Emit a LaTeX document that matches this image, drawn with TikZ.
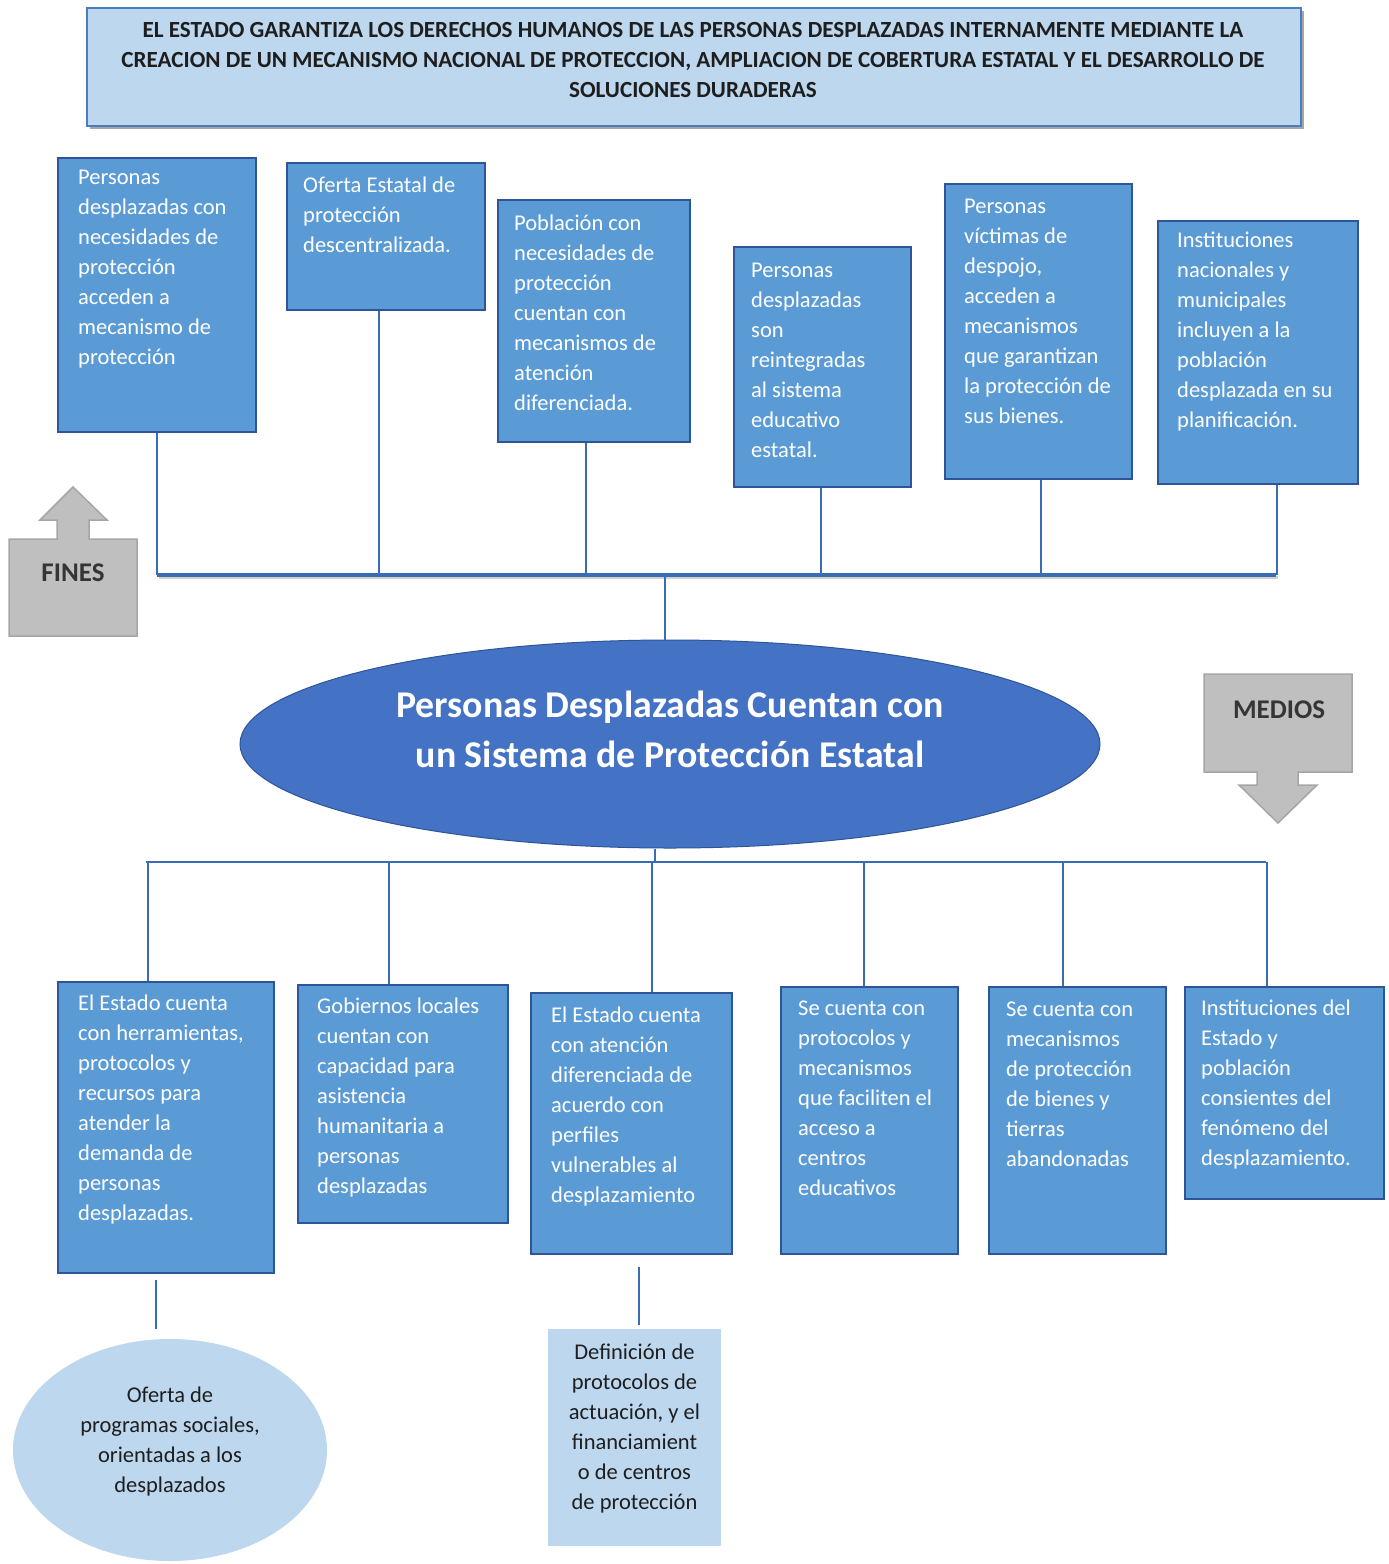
\documentclass[tikz,border=0pt]{standalone}
\usepackage{fontspec}
\setmainfont{Carlito}
\usetikzlibrary{shapes.geometric}
\definecolor{boxfill}{HTML}{5B9BD5}
\definecolor{boxline}{HTML}{2F5597}
\definecolor{lightfill}{HTML}{BDD7EE}
\definecolor{titleline}{HTML}{4A7EBB}
\definecolor{ovalfill}{HTML}{4472C4}
\definecolor{connc}{HTML}{3A6BB5}
\definecolor{arrowfill}{HTML}{BFBFBF}
\definecolor{arrowline}{HTML}{A6A6A6}
\definecolor{darktext}{HTML}{1E1E1E}
\tikzset{
  bluebox/.style={draw=boxline, fill=boxfill, line width=1.5pt, inner sep=0pt},
  boxtext/.style={inner sep=0pt, align=left, text=white, font=\fontsize{22.5}{30}\selectfont},
  titlebox/.style={draw=titleline, fill=lightfill, line width=1.5pt, inner sep=0pt},
  titletext/.style={inner sep=0pt, align=center, text=darktext, font=\bfseries\fontsize{23.1}{30}\selectfont},
  conn/.style={draw=connc, line width=2pt},
  mainbar/.style={draw=connc, line width=3.5pt},
  oval/.style={ellipse, fill=ovalfill, draw=boxline, line width=1pt, minimum width=860, minimum height=208, inner sep=0pt},
  ovaltext/.style={inner sep=0pt, text=white, align=center, font=\bfseries\fontsize{37.8}{50}\selectfont},
  lightoval/.style={ellipse, fill=lightfill, minimum width=314, minimum height=222, inner sep=0pt},
  lightrect/.style={fill=lightfill, inner sep=0pt},
  lighttext/.style={inner sep=0pt, align=center, text=darktext, font=\fontsize{22.5}{30}\selectfont},
  grayarrow/.style={fill=arrowfill, draw=arrowline, line width=1.5pt},
  arrowtext/.style={inner sep=0pt, text=darktext!90, font=\bfseries\fontsize{27}{30}\selectfont}
}
% name, x, y, w, h, xpad, baseline offset, text
\newcommand\tbox[8]{%
  \node[bluebox, minimum width=#4, minimum height=#5, anchor=north west] (#1) at (#2,#3) {};
  \node[boxtext, anchor=north west] (#1t) at ([xshift=#6pt,yshift={17pt-#7pt}]#1.north west) {\rule{0pt}{17pt}#8};
}
\begin{document}
\begin{tikzpicture}[x=1pt,y=-1pt]
\useasboundingbox (0,0) rectangle (1389,1564);
\fill[white] (0,0) rectangle (1389,1564);

% title
\fill[black!35] (90,11) rectangle (1304,129);
\node[titlebox, minimum width=1214, minimum height=118, anchor=north west] (title) at (86,7) {};
\node[titletext, anchor=north] (titlet) at (693,20) {\rule{0pt}{17pt}EL ESTADO GARANTIZA LOS DERECHOS HUMANOS DE LAS PERSONAS DESPLAZADAS INTERNAMENTE MEDIANTE LA\\CREACION DE UN MECANISMO NACIONAL DE PROTECCION, AMPLIACION DE COBERTURA ESTATAL Y EL DESARROLLO DE\\SOLUCIONES DURADERAS};

% fines boxes
\tbox{f1}{57}{157}{198}{274}{21}{27}{Personas\\desplazadas con\\necesidades de\\protección\\acceden a\\mecanismo de\\protección}
\tbox{f2}{286}{162}{198}{147}{17}{30}{Oferta Estatal de\\protección\\descentralizada.}
\tbox{f3}{497}{199}{192}{242}{17}{31}{Población con\\necesidades de\\protección\\cuentan con\\mecanismos de\\atención\\diferenciada.}
\tbox{f4}{733}{246}{177}{240}{18}{31}{Personas\\desplazadas\\son\\reintegradas\\al sistema\\educativo\\estatal.}
\tbox{f5}{944}{183}{187}{295}{20}{30}{Personas\\víctimas de\\despojo,\\acceden a\\mecanismos\\que garantizan\\la protección de\\sus bienes.}
\tbox{f6}{1157}{220}{200}{263}{20}{27}{Instituciones\\nacionales y\\municipales\\incluyen a la\\población\\desplazada en su\\planificación.}

% top bar
\coordinate (barL) at (157,575);
\coordinate (barR) at (1276,575);
\draw[black!18, line width=3pt] (159,577.5) -- (1278,577.5);
\draw[conn] (f1.south) -- (f1.south |- barL);
\draw[conn] ([xshift=-7pt]f2.south) -- ([xshift=-7pt]f2.south |- barL);
\draw[conn] ([xshift=-7.5pt]f3.south) -- ([xshift=-7.5pt]f3.south |- barL);
\draw[conn] ([xshift=-1.5pt]f4.south) -- ([xshift=-1.5pt]f4.south |- barL);
\draw[conn] ([xshift=2.5pt]f5.south) -- ([xshift=2.5pt]f5.south |- barL);
\draw[conn] ([xshift=19pt]f6.south) -- ([xshift=19pt]f6.south |- barL);
\draw[mainbar] (barL) -- (barR);

% central goal
\node[oval] (goal) at (670,744) {};
\node[ovaltext] (goalt) at (670,729) {Personas Desplazadas Cuentan con\\un Sistema de Protección Estatal};
\coordinate (cTop) at (665,575);
\draw[conn] (cTop) -- (cTop |- goal.north);

% arrows
\filldraw[grayarrow] (9,539) -- (57,539) -- (57,520) -- (40,520) -- (73,487) -- (107,520) -- (89,520) -- (89,539) -- (137,539) -- (137,636) -- (9,636) -- cycle;
\node[arrowtext] (fines) at (73,573) {FINES};
\filldraw[grayarrow] (1204,674) -- (1352,674) -- (1352,772) -- (1298,772) -- (1298,785) -- (1317,785) -- (1278,823) -- (1239,785) -- (1257,785) -- (1257,772) -- (1204,772) -- cycle;
\node[arrowtext] (medios) at (1279,710) {MEDIOS};

% medios boxes
\tbox{m1}{57}{981}{216}{291}{21}{29}{El Estado cuenta\\con herramientas,\\protocolos y\\recursos para\\atender la\\demanda de\\personas\\desplazadas.}
\tbox{m2}{297}{984}{210}{238}{20}{29}{Gobiernos locales\\cuentan con\\capacidad para\\asistencia\\humanitaria a\\personas\\desplazadas}
\tbox{m3}{530}{992}{201}{261}{21}{30}{El Estado cuenta\\con atención\\diferenciada de\\acuerdo con\\perfiles\\vulnerables al\\desplazamiento}
\tbox{m4}{780}{986}{177}{267}{18}{29}{Se cuenta con\\protocolos y\\mecanismos\\que faciliten el\\acceso a\\centros\\educativos}
\tbox{m5}{988}{986}{177}{267}{18}{30}{Se cuenta con\\mecanismos\\de protección\\de bienes y\\tierras\\abandonadas}
\tbox{m6}{1184}{986}{199}{212}{17}{29}{Instituciones del\\Estado y\\población\\consientes del\\fenómeno del\\desplazamiento.}

% bottom bar
\coordinate (bbL) at (146,862);
\coordinate (bbR) at (1266,862);
\draw[conn] (bbL) -- (bbR);
\draw[conn] ([xshift=-15pt]goal.south) -- ([xshift=-15pt]goal.south |- bbL);
\draw[conn] ([xshift=-18pt]m1.north) -- ([xshift=-18pt]m1.north |- bbL);
\draw[conn] ([xshift=-14pt]m2.north) -- ([xshift=-14pt]m2.north |- bbL);
\draw[conn] ([xshift=20.5pt]m3.north) -- ([xshift=20.5pt]m3.north |- bbL);
\draw[conn] ([xshift=-5.5pt]m4.north) -- ([xshift=-5.5pt]m4.north |- bbL);
\draw[conn] ([xshift=-14.5pt]m5.north) -- ([xshift=-14.5pt]m5.north |- bbL);
\draw[conn] ([xshift=-17.5pt]m6.north) -- ([xshift=-17.5pt]m6.north |- bbL);

% lower level
\node[lightoval] (ov) at (170,1450) {};
\node[lighttext] (ovt) at (170,1441) {Oferta de\\programas sociales,\\orientadas a los\\desplazados};
\node[lightrect, minimum width=173, minimum height=217, anchor=north west] (def) at (548,1329) {};
\node[lighttext] (deft) at (634.5,1428) {Definición de\\protocolos de\\actuación, y el\\financiamient\\o de centros\\de protección};
\draw[conn, shorten <=6pt, shorten >=10pt] ([xshift=-10pt]m1.south) -- ([xshift=-10pt]m1.south |- ov.north);
\draw[conn, shorten <=12pt, shorten >=4pt] ([xshift=7.5pt]m3.south) -- ([xshift=7.5pt]m3.south |- def.north);
\end{tikzpicture}
\end{document}
